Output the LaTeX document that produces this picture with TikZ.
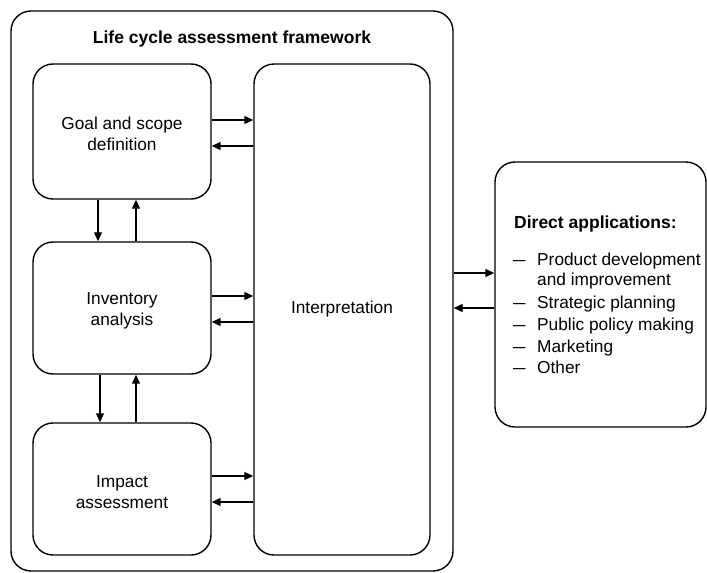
\documentclass[tikz,border=0pt]{standalone}
\usepackage{fontspec}
\setmainfont{Liberation Sans}
\usetikzlibrary{arrows.meta}
\begin{document}
\begin{tikzpicture}[x=1pt,y=-1pt,
  box/.style={draw, line width=1.4pt, rounded corners=20pt, inner sep=0pt},
  txt/.style={font=\fontsize{17.3}{20.5}\selectfont, align=center, inner sep=0pt},
  itm/.style={font=\fontsize{17.3}{20.5}\selectfont, anchor=base west, inner sep=0pt},
  arr/.style={line width=1.2pt, -{Triangle[length=9pt,width=8pt]}}]
\useasboundingbox (0,0) rectangle (707,573);
% outer frame
\node[box, minimum width=442pt, minimum height=560pt] (outer) at (232,291) {};
\node[font=\fontsize{17.5}{21}\selectfont\bfseries, anchor=base, inner sep=0pt] (title) at (232,43) {Life cycle assessment framework};
% stage boxes
\node[box, minimum width=178pt, minimum height=135pt] (goal) at (122,131.5) {};
\node[box, minimum width=178pt, minimum height=132pt] (inv) at (122,308) {};
\node[box, minimum width=178pt, minimum height=132pt] (imp) at (122,489) {};
\node[box, minimum width=176pt, minimum height=491pt] (interp) at (342,309.5) {};
\node[txt] (goalt) at (122,134) {Goal and scope\\definition};
\node[txt] (invt) at (122,311) {Inventory\\analysis};
\node[txt] (impt) at (122,492) {Impact\\assessment};
\node[txt] (interpt) at (342,309) {Interpretation};
% direct applications
\node[box, minimum width=211pt, minimum height=265pt] (direct) at (600.5,294.5) {};
\node[itm, font=\fontsize{17.5}{21}\selectfont\bfseries] (dtitle) at (514,228) {Direct applications:};
\foreach \y/\t [count=\i] in {265/Product development, 308/Strategic planning, 330/Public policy making, 352/Marketing, 373/Other}{
  \node[itm] (dash\i) at (513,\y) {\scalebox{1.3}[1]{–}};
  \node[itm] (item\i) at (537,\y) {\t};
}
\node[itm] (item1b) at (537,285) {and improvement};
% horizontal arrows
\draw[arr] (goal.east |- 0,120) -- (interp.west |- 0,120);
\draw[arr] (interp.west |- 0,146) -- (goal.east |- 0,146);
\draw[arr] (inv.east |- 0,296) -- (interp.west |- 0,296);
\draw[arr] (interp.west |- 0,322) -- (inv.east |- 0,322);
\draw[arr] (imp.east |- 0,476) -- (interp.west |- 0,476);
\draw[arr] (interp.west |- 0,502) -- (imp.east |- 0,502);
% vertical arrows
\draw[arr] (goal.south -| 98,0) -- (inv.north -| 98,0);
\draw[arr] (inv.north -| 136,0) -- (goal.south -| 136,0);
\draw[arr] (inv.south -| 100,0) -- (imp.north -| 100,0);
\draw[arr] (imp.north -| 136,0) -- (inv.south -| 136,0);
% to direct applications
\draw[arr] (outer.east |- 0,273) -- (direct.west |- 0,273);
\draw[arr] (direct.west |- 0,308) -- (outer.east |- 0,308);
\end{tikzpicture}
\end{document}
